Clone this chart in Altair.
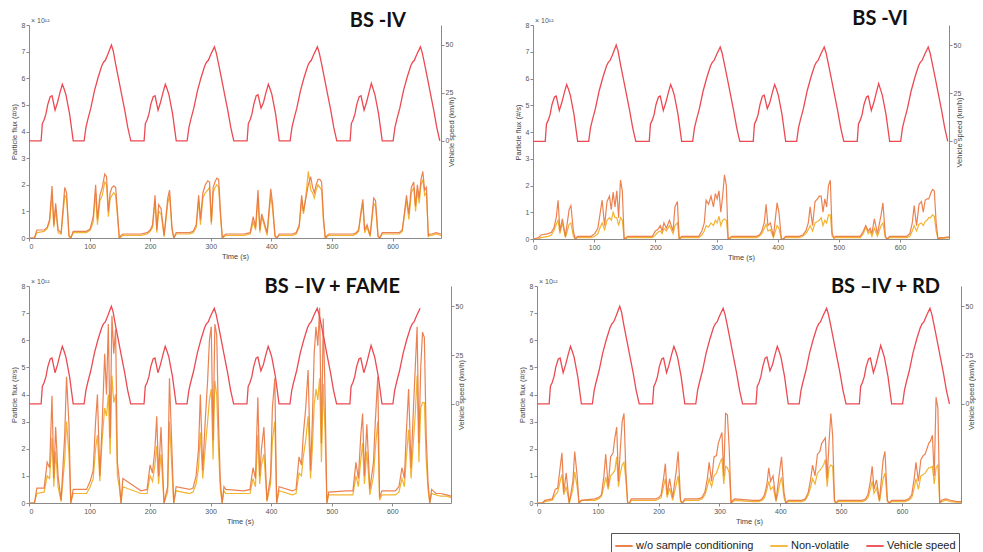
import altair as alt
import pandas as pd

# ---------------- data ----------------
# common time grid for the particle-flux traces (s)
T = [0, 9, 13, 25, 30, 34, 38, 41, 44, 48, 53, 59, 62, 66, 69, 73, 95, 101, 106, 110, 113, 117, 121, 125, 128, 131, 134, 137, 140, 143, 146, 149, 152, 155,
     185, 195, 200, 204, 208, 211, 214, 218, 223, 229, 232, 236, 239, 243, 265, 271, 276, 280, 283, 287, 291, 295, 298, 301, 304, 307, 310, 313, 316, 319, 322, 325,
     355, 365, 370, 374, 378, 381, 384, 388, 393, 399, 402, 406, 409, 413, 435, 441, 446, 450, 453, 457, 461, 465, 468, 471, 474, 477, 480, 483, 486, 489, 492, 495,
     525, 535, 540, 544, 548, 551, 554, 558, 563, 569, 572, 576, 579, 583, 605, 611, 616, 620, 623, 627, 631, 635, 638, 641, 644, 647, 650, 653, 656, 659, 662, 665,
     672, 680, 690, 697]

# particle flux (x 1e12 #/s)
P1_WO = [0, 0, 0.3,
         0.3, 0.4, 0.7, 1.95, 0.5, 1.3, 0.3, 0.2, 1.9, 1.7, 0.1, 0, 0.25, 0.25, 0.35, 0.8, 2.0, 0.7, 1.6, 1.9, 2.4, 2.3, 1.0, 1.7, 1.9, 1.95, 1.9, 1.0, 0, 0.1, 0.15,
         0.15, 0.2, 0.3, 0.5, 1.6, 0.3, 1.25, 1.1, 0.1, 1.5, 1.8, 0.4, 0, 0.2, 0.2, 0.25, 0.5, 1.6, 0.7, 1.7, 2.0, 2.15, 2.1, 0.6, 1.9, 2.1, 2.25, 2.2, 1.0, 0, 0.1, 0.15,
         0.15, 0.2, 0.8, 0.4, 1.8, 0.3, 0.9, 0.6, 0.2, 1.85, 1.3, 0.1, 0, 0.15, 0.15, 0.2, 0.5, 1.6, 1.0, 1.5, 2.0, 2.3, 1.9, 1.7, 2.0, 2.2, 2.2, 2.1, 0.8, 0, 0.1, 0.15,
         0.15, 0.15, 0.2, 0.3, 1.0, 1.45, 0.3, 0.5, 0.1, 1.5, 1.4, 0.1, 0, 0.2, 0.2, 0.2, 0.3, 1.0, 1.6, 0.9, 1.9, 2.1, 1.2, 2.0, 1.5, 2.2, 2.5, 1.8, 1.9, 0.1, 0.15, 0.15,
         0.2, 0.15, 0.15, 0.15]
P1_NV = [0, 0, 0.2,
         0.25, 0.35, 0.6, 1.6, 0.4, 1.1, 0.2, 0.15, 1.6, 1.5, 0.05, 0, 0.2, 0.2, 0.3, 0.6, 1.7, 0.5, 1.4, 1.6, 2.1, 2.0, 0.8, 1.5, 1.6, 1.7, 1.6, 0.8, 0, 0.05, 0.1,
         0.1, 0.15, 0.25, 0.4, 1.4, 0.2, 1.0, 0.9, 0.05, 1.3, 1.6, 0.3, 0, 0.15, 0.15, 0.2, 0.4, 1.4, 0.5, 1.5, 1.7, 1.8, 1.9, 0.5, 1.7, 1.9, 2.0, 1.9, 0.8, 0, 0.05, 0.1,
         0.1, 0.15, 0.6, 0.3, 1.5, 0.2, 0.8, 0.5, 0.1, 1.6, 1.1, 0.05, 0, 0.1, 0.1, 0.15, 0.4, 1.4, 0.9, 1.6, 2.5, 1.8, 1.7, 1.5, 1.8, 2.0, 1.9, 1.8, 0.6, 0, 0.05, 0.1,
         0.1, 0.1, 0.15, 0.25, 0.9, 1.3, 0.2, 0.4, 0.05, 1.3, 1.2, 0.05, 0, 0.15, 0.15, 0.15, 0.25, 0.9, 1.4, 0.7, 1.7, 1.9, 1.0, 1.8, 1.3, 2.0, 2.2, 1.6, 1.7, 0.05, 0.1, 0.1,
         0.15, 0.1, 0.1, 0.1]
P2_WO = [0, 0.05, 0.15,
         0.2, 0.25, 0.4, 0.8, 1.45, 0.3, 0.75, 0.1, 1.1, 1.25, 0.3, 0, 0.1, 0.1, 0.2, 0.4, 1.0, 1.45, 0.5, 1.4, 1.6, 1.1, 1.75, 1.2, 1.8, 0.8, 2.2, 1.8, 0, 0.05, 0.1,
         0.1, 0.1, 0.3, 0.35, 0.5, 0.3, 0.6, 0.4, 0.7, 0.3, 1.2, 1.4, 0, 0.1, 0.1, 0.1, 0.3, 0.6, 1.45, 1.3, 1.6, 1.2, 1.7, 1.5, 1.8, 1.0, 1.6, 2.4, 2.0, 0, 0.05, 0.1,
         0.1, 0.1, 0.15, 0.3, 0.6, 1.3, 0.5, 0.6, 0.1, 1.35, 1.0, 0, 0, 0.1, 0.1, 0.15, 0.3, 0.6, 1.2, 0.5, 1.4, 1.5, 1.6, 1.6, 1.0, 1.5, 1.2, 2.0, 2.2, 0.2, 0.05, 0.1,
         0.1, 0.1, 0.3, 0.5, 0.3, 0.4, 0.2, 0.75, 0.2, 0.9, 1.35, 0.1, 0, 0.1, 0.1, 0.1, 0.2, 0.6, 1.25, 0.5, 1.3, 1.4, 1.0, 1.45, 1.5, 1.5, 1.7, 1.85, 1.8, 0.6, 0, 0.05,
         0.05, 0.08, 0.1, 0.1]
P2_NV = [0, 0, 0.05,
         0.1, 0.15, 0.3, 0.55, 0.7, 0.2, 0.6, 0.05, 0.55, 0.6, 0.1, 0, 0.05, 0.05, 0.1, 0.2, 0.45, 0.6, 0.35, 0.7, 0.8, 0.7, 1.0, 0.8, 0.8, 0.5, 0.8, 0.7, 0, 0.02, 0.05,
         0.05, 0.05, 0.15, 0.25, 0.3, 0.2, 0.4, 0.3, 0.5, 0.2, 0.5, 0.6, 0, 0.05, 0.05, 0.05, 0.15, 0.3, 0.5, 0.45, 0.6, 0.5, 0.7, 0.6, 0.85, 0.5, 0.7, 0.75, 0.7, 0, 0.02, 0.05,
         0.05, 0.05, 0.1, 0.2, 0.4, 0.55, 0.3, 0.35, 0.05, 0.5, 0.4, 0, 0, 0.05, 0.05, 0.1, 0.2, 0.35, 0.5, 0.3, 0.6, 0.65, 0.7, 0.8, 0.5, 0.7, 0.6, 0.9, 0.9, 0.1, 0.02, 0.05,
         0.05, 0.05, 0.2, 0.45, 0.2, 0.3, 0.1, 0.4, 0.1, 0.5, 0.6, 0.05, 0, 0.05, 0.05, 0.05, 0.1, 0.3, 0.5, 0.3, 0.55, 0.6, 0.5, 0.65, 0.7, 0.8, 0.8, 0.9, 0.85, 0.3, 0, 0.02,
         0.03, 0.05, 0.05, 0.05]
P3_WO = [0, 0, 0.55,
         0.55, 1.5, 1.3, 3.95, 0.9, 2.8, 1.0, 0.1, 2.5, 4.65, 2.9, 0, 0.5, 0.5, 0.8, 1.2, 3.0, 4.0, 1.0, 3.0, 5.5, 4.0, 6.6, 2.4, 6.9, 5.5, 6.4, 1.5, 0.9, 0, 0.9,
         0.45, 0.5, 1.4, 1.1, 2.0, 3.2, 1.0, 2.8, 0, 0.6, 4.6, 2.0, 0, 0.6, 0.5, 0.55, 1.0, 2.0, 4.0, 1.2, 3.0, 4.5, 6.0, 6.5, 2.3, 6.6, 6.2, 3.0, 0.8, 0, 0.6, 0.5,
         0.45, 0.5, 1.3, 0.9, 3.9, 1.0, 2.0, 2.8, 0.1, 1.0, 3.5, 4.6, 0, 0.6, 0.45, 0.5, 1.7, 1.4, 2.5, 3.5, 4.9, 1.2, 3.0, 5.5, 6.5, 5.8, 7.2, 2.2, 6.8, 4.0, 0, 0.4,
         0.45, 0.45, 1.5, 0.9, 2.5, 3.3, 1.0, 2.9, 0.5, 1.5, 3.0, 4.65, 0.2, 0.45, 0.45, 0.6, 1.3, 0.9, 2.5, 4.2, 1.3, 3.5, 5.0, 6.5, 2.2, 5.0, 6.3, 6.1, 2.5, 0.8, 0, 0.5,
         0.35, 0.35, 0.3, 0.25]
P3_NV = [0, 0, 0.35,
         0.4, 1.0, 0.9, 2.4, 0.6, 1.9, 0.6, 0.05, 1.6, 3.0, 1.8, 0, 0.35, 0.35, 0.6, 0.9, 2.0, 2.5, 0.8, 2.4, 3.5, 3.2, 4.0, 1.8, 4.7, 3.7, 4.0, 1.0, 0.6, 0, 0.6,
         0.35, 0.35, 1.0, 0.8, 1.4, 2.1, 0.7, 1.8, 0, 0.4, 3.0, 1.3, 0, 0.45, 0.35, 0.4, 0.7, 1.3, 2.6, 0.9, 2.0, 3.0, 3.8, 4.2, 1.6, 4.5, 4.0, 2.0, 0.5, 0, 0.45, 0.35,
         0.35, 0.35, 0.9, 0.6, 2.5, 0.7, 1.4, 1.8, 0.05, 0.7, 2.3, 3.0, 0, 0.45, 0.3, 0.35, 1.1, 1.0, 1.7, 2.3, 3.2, 0.9, 2.0, 3.6, 4.2, 3.8, 4.6, 1.5, 4.4, 2.6, 0, 0.3,
         0.3, 0.3, 1.0, 0.6, 1.6, 2.2, 0.7, 1.9, 0.3, 1.0, 2.0, 3.0, 0.1, 0.3, 0.3, 0.4, 0.9, 0.6, 1.6, 2.7, 0.9, 2.3, 3.3, 4.7, 1.5, 3.5, 3.7, 3.7, 1.6, 0.5, 0, 0.35,
         0.3, 0.25, 0.25, 0.2]
P4_WO = [0, 0, 0.1,
         0.15, 0.5, 0.55, 1.3, 1.85, 0.4, 1.1, 0, 0.8, 1.9, 1.0, 0, 0.1, 0.15, 0.2, 0.3, 1.0, 1.8, 0.6, 1.7, 1.85, 2.4, 2.8, 0.8, 2.0, 3.0, 3.3, 1.2, 0, 0, 0.15,
         0.15, 0.15, 0.2, 0.3, 0.9, 1.45, 0.3, 0.9, 0.2, 1.2, 1.9, 0.1, 0, 0.15, 0.15, 0.2, 0.4, 0.9, 1.5, 0.8, 1.7, 1.75, 2.2, 2.4, 2.6, 1.0, 3.3, 3.25, 2.0, 0, 0.1, 0.15,
         0.1, 0.1, 0.15, 0.3, 0.7, 1.3, 0.8, 1.0, 0.1, 1.2, 1.7, 0.4, 0, 0.1, 0.1, 0.15, 0.4, 0.9, 1.4, 1.0, 1.8, 1.9, 2.2, 2.3, 2.4, 0.9, 2.2, 3.3, 2.5, 0.1, 0, 0.1,
         0.1, 0.1, 0.15, 0.3, 0.8, 1.35, 0.5, 0.85, 0.1, 1.6, 1.9, 0.1, 0, 0.1, 0.1, 0.15, 0.3, 0.9, 1.5, 0.8, 1.6, 1.75, 1.8, 2.0, 2.2, 2.3, 2.5, 1.0, 3.9, 3.5, 0, 0.1,
         0.15, 0.1, 0.05, 0.05]
P4_NV = [0, 0, 0.05,
         0.1, 0.3, 0.4, 0.8, 1.05, 0.3, 0.6, 0, 0.5, 1.15, 0.6, 0, 0.1, 0.1, 0.15, 0.25, 0.6, 0.95, 0.5, 1.0, 1.1, 1.2, 1.7, 0.6, 1.1, 1.4, 1.5, 0.9, 0, 0, 0.1,
         0.1, 0.1, 0.15, 0.2, 0.6, 0.9, 0.2, 0.55, 0.1, 0.7, 1.0, 0.05, 0, 0.1, 0.1, 0.15, 0.3, 0.6, 0.9, 0.6, 1.0, 1.1, 1.3, 1.5, 1.65, 0.7, 1.35, 1.3, 1.1, 0, 0.05, 0.1,
         0.05, 0.05, 0.1, 0.2, 0.5, 0.8, 0.5, 0.6, 0.05, 0.7, 0.95, 0.2, 0, 0.05, 0.05, 0.1, 0.3, 0.6, 0.9, 0.7, 1.1, 1.2, 1.3, 1.4, 1.6, 0.6, 1.3, 1.4, 1.35, 0.05, 0, 0.05,
         0.05, 0.05, 0.1, 0.2, 0.5, 0.8, 0.35, 0.55, 0.05, 0.9, 1.1, 0.05, 0, 0.05, 0.05, 0.1, 0.2, 0.55, 0.9, 0.5, 1.0, 1.05, 1.1, 1.2, 1.3, 1.3, 1.35, 0.7, 1.3, 1.4, 0, 0.05,
         0.1, 0.05, 0.03, 0.03]

# vehicle speed (km/h), same driving cycle in all four tests
SPEED_T = [0, 20, 22, 25, 28, 31, 35, 38, 43, 47, 51, 55, 58, 61, 64, 67, 70, 73, 91, 94, 97, 102, 108, 114, 120, 123, 126, 130, 136, 139, 143, 148, 153, 158, 163, 168,
           190, 192, 195, 198, 201, 205, 208, 213, 217, 221, 225, 228, 231, 234, 237, 240, 243, 261, 264, 267, 272, 278, 284, 290, 293, 296, 300, 306, 309, 313, 318, 323, 328, 333, 338,
           360, 362, 365, 368, 371, 375, 378, 383, 387, 391, 395, 398, 401, 404, 407, 410, 413, 431, 434, 437, 442, 448, 454, 460, 463, 466, 470, 476, 479, 483, 488, 493, 498, 503, 508,
           530, 532, 535, 538, 541, 545, 548, 553, 557, 561, 565, 568, 571, 574, 577, 580, 583, 601, 604, 607, 612, 618, 624, 630, 633, 636, 640, 646, 649, 653, 658, 663, 668, 673, 678]
SPEED_V = [0, 0, 9, 11, 14, 19, 23, 23.5, 16, 20, 25, 29.5, 27, 24, 19, 14, 7, 0, 0, 7, 11, 17, 26, 33, 39, 41, 42, 45, 50, 47, 40, 32, 24, 16, 7, 0,
           0, 9, 11, 14, 19, 23, 23.5, 16, 20, 25, 29.5, 27, 24, 19, 14, 7, 0, 0, 7, 11, 17, 26, 33, 39, 41, 42, 45, 49, 46, 40, 32, 24, 16, 7, 0,
           0, 9, 11, 14, 19, 23.5, 24, 17, 20, 25, 29.5, 27, 24, 19, 14, 7, 0, 0, 7, 11, 17, 26, 33, 39, 41, 42, 45, 49, 46, 40, 32, 24, 16, 7, 0,
           0, 9, 11, 14, 19, 23, 23.5, 16, 20, 25, 30, 27, 24, 19, 14, 7, 0, 0, 7, 11, 17, 26, 33, 39, 41, 42, 45, 49, 46, 40, 32, 24, 16, 7, 0]

TITLES = ["BS -IV", "BS -VI", "BS \u2013IV + FAME", "BS \u2013IV + RD"]
SERIES = ["w/o sample conditioning", "Non-volatile", "Vehicle speed"]
COLORS = ["#E9743F", "#F2B431", "#EC4A52"]
X_TICKS = [0, 100, 200, 300, 400, 500, 600]
FLUX_TICKS = [0, 1, 2, 3, 4, 5, 6, 7, 8]
SPEED_TICKS = [0, 25, 50]
SPEED_DOMAIN = [-50.7, 60.4]
EXP_LABEL = "\u00d7 10\u00b9\u00b2"

FONT = "Liberation Sans"
color_scale = alt.Scale(domain=SERIES, range=COLORS)


def panel(wo, nv, title, xmax, speed_tmax, w, h, tx, ty):
    flux = pd.DataFrame({"t": T + T, "v": wo + nv,
                         "series": [SERIES[0]] * len(T) + [SERIES[1]] * len(T)})
    sp = pd.DataFrame({"t": SPEED_T, "s": SPEED_V, "series": SERIES[2]})
    sp = sp[sp["t"] <= speed_tmax]
    x = alt.X("t:Q", scale=alt.Scale(domain=[0, xmax], nice=False, zero=False),
              axis=alt.Axis(values=X_TICKS, title="Time (s)", format="d"))
    col = alt.Color("series:N", scale=color_scale,
                    legend=alt.Legend(title=None))
    yflux = alt.Y("v:Q", scale=alt.Scale(domain=[0, 8], nice=False),
                  axis=alt.Axis(values=FLUX_TICKS, title="Particle flux (#/s)", orient="left"))
    base = alt.Chart(flux)
    nv_l = base.transform_filter(alt.datum.series == SERIES[1]).mark_line(
        strokeWidth=1.2, clip=True).encode(x=x, y=yflux, color=col)
    wo_l = base.transform_filter(alt.datum.series == SERIES[0]).mark_line(
        strokeWidth=1.2, clip=True, opacity=0.9).encode(x=x, y=yflux, color=col)
    flux_layer = alt.layer(nv_l, wo_l)
    speed = alt.Chart(sp).mark_line(strokeWidth=1.3, clip=True).encode(
        x=x,
        y=alt.Y("s:Q", scale=alt.Scale(domain=SPEED_DOMAIN, nice=False, zero=False),
                axis=alt.Axis(values=SPEED_TICKS, orient="right", title="Vehicle speed (km/h)",
                              titleAngle=270)),
        color=col)
    ttl = alt.Chart(pd.DataFrame({"label": [title]})).mark_text(
        align="right", baseline="alphabetic", font="Lato", fontSize=20,
        fontWeight="bold", color="#111").encode(
        x=alt.value(tx), y=alt.value(ty), text="label:N")
    exp = alt.Chart(pd.DataFrame({"label": [EXP_LABEL]})).mark_text(
        align="left", baseline="alphabetic", font=FONT, fontSize=7,
        color="#555").encode(x=alt.value(2), y=alt.value(-2), text="label:N")
    return alt.layer(flux_layer, speed, ttl, exp).resolve_scale(y="independent").properties(
        width=w, height=h)


p1 = panel(P1_WO, P1_NV, TITLES[0], 680, 700, 412, 213, 377, 2)
p2 = panel(P2_WO, P2_NV, TITLES[1], 680, 700, 416, 214, 375, 0)
p3 = panel(P3_WO, P3_NV, TITLES[2], 697, 648, 422, 217, 371, 7)
p4 = panel(P4_WO, P4_NV, TITLES[3], 697, 700, 424, 217, 403, 7)

top = alt.hconcat(p1, p2, spacing=58)
bottom = alt.hconcat(p3, p4, spacing=52)

chart = alt.vconcat(top, bottom, spacing=16).properties(
    padding={"left": 10, "top": 9, "right": 0, "bottom": 0},
    background="white",
).configure_view(strokeWidth=0).configure_axis(
    labelFont=FONT, labelFontSize=7, labelColor="#555",
    titleFont=FONT, titleFontSize=7.5, titleFontWeight="normal", titleColor="#444",
    domainColor="#8a8a8a", tickColor="#8a8a8a", tickSize=3, labelPadding=1,
    titlePadding=3, grid=False,
).configure_legend(
    orient="none", legendX=582, legendY=508, direction="horizontal",
    symbolType="stroke", symbolStrokeWidth=2, symbolSize=300,
    labelFont=FONT, labelFontSize=11, labelColor="#222", labelOffset=2,
    columnPadding=12, strokeColor="#555", padding=3, fillColor="white",
)

chart.save("out.html", embed_options={"renderer": "svg", "actions": False})
